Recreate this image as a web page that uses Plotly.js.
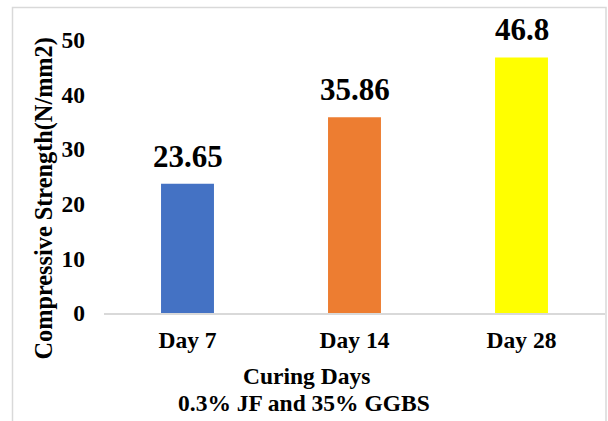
<!DOCTYPE html>
<html>
<head>
<meta charset="utf-8">
<script src="https://cdn.plot.ly/plotly-3.0.1.min.js"></script>
<style>
  html, body { margin: 0; padding: 0; background: #ffffff; }
  #chart { width: 608px; height: 421px; }
</style>
</head>
<body>
<div id="chart"></div>
<script>
// Compressive strength by curing age
const categories = ['Day 7', 'Day 14', 'Day 28'];
const strength = [23.65, 35.86, 46.8];
const barColors = ['#4472C4', '#ED7D31', '#FFFF00'];
const yTicks = [0, 10, 20, 30, 40, 50];
const yTitle = 'Compressive Strength(N/mm2)';
const xTitleLines = ['Curing Days', '0.3% JF and 35% GGBS'];

const W = 608, H = 421;
const M = { l: 104, r: 3, t: 40, b: 108 };
const plotW = W - M.l - M.r, plotH = H - M.t - M.b;
// pixel -> paper helpers for items placed outside the plot area
const px = x => (x - M.l) / plotW;
const py = y => (H - M.b - y) / plotH;

const FONT = 'Liberation Serif';
const txt = (size) => ({ family: FONT, size: size, color: '#000000' });
const b = s => '<b>' + s + '</b>';

const trace = {
  type: 'bar',
  x: categories,
  y: strength,
  marker: { color: barColors, line: { width: 0 } },
  hoverinfo: 'x+y'
};

const annotations = [];
// value labels above each bar
categories.forEach((c, i) => {
  annotations.push({
    x: c, y: strength[i], xref: 'x', yref: 'y',
    text: b(String(strength[i])),
    showarrow: false, xanchor: 'center', yanchor: 'bottom', yshift: 8,
    font: txt(31)
  });
});
// vertical axis title
annotations.push({
  x: px(44), y: py(198.5), xref: 'paper', yref: 'paper',
  text: b(yTitle), textangle: -90, showarrow: false,
  xanchor: 'center', yanchor: 'middle', font: txt(24.3)
});
// two-line horizontal axis title
annotations.push({
  x: px(306), y: py(385), xref: 'paper', yref: 'paper',
  text: b(xTitleLines[0]), showarrow: false,
  xanchor: 'center', yanchor: 'bottom', yshift: -6, font: txt(23.5)
});
annotations.push({
  x: px(304), y: py(412), xref: 'paper', yref: 'paper',
  text: b(xTitleLines[1]), showarrow: false,
  xanchor: 'center', yanchor: 'bottom', yshift: -6, font: txt(23.5)
});

const layout = {
  width: W, height: H,
  margin: M,
  paper_bgcolor: '#ffffff', plot_bgcolor: '#ffffff',
  showlegend: false,
  bargap: 0.683,
  font: txt(23.5),
  xaxis: {
    type: 'category',
    tickvals: categories,
    ticktext: categories.map(b),
    showgrid: false, zeroline: false,
    showline: true, linecolor: '#d9d9d9', linewidth: 1.5,
    ticks: '', ticklabelstandoff: 5,
    tickfont: txt(23.5)
  },
  yaxis: {
    range: [0, 50],
    tickvals: yTicks,
    ticktext: yTicks.map(v => b(String(v))),
    showgrid: false, zeroline: false, showline: false,
    ticks: '', ticklabelstandoff: 18,
    tickfont: txt(23.5)
  },
  annotations: annotations,
  shapes: [{
    // chart frame
    type: 'rect', xref: 'paper', yref: 'paper',
    x0: px(12.5), x1: px(606), y0: py(430), y1: py(7.5),
    line: { color: '#d9d9d9', width: 1.5 }, fillcolor: 'rgba(0,0,0,0)',
    layer: 'below'
  }]
};

Plotly.newPlot('chart', [trace], layout, { displayModeBar: false, staticPlot: true });
</script>
</body>
</html>
